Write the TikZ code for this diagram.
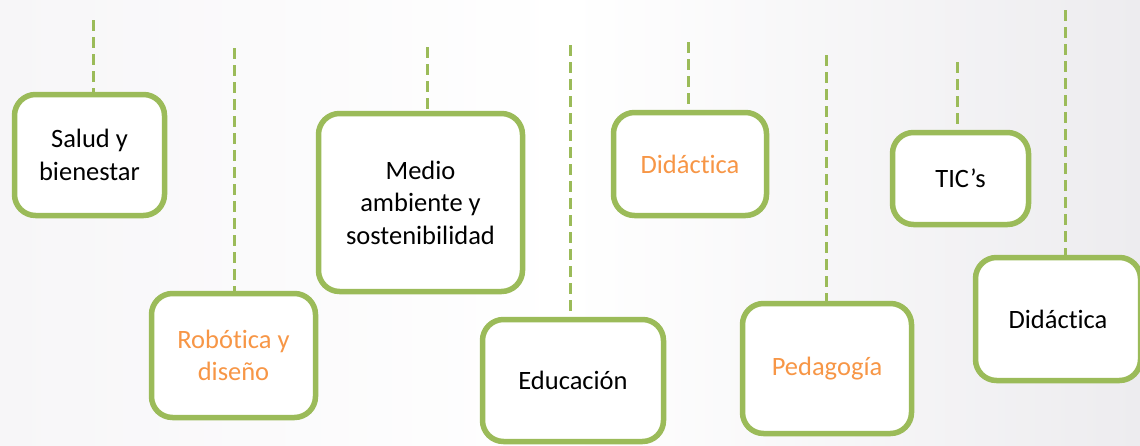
\documentclass[tikz,border=0pt]{standalone}
\usepackage{fontspec}
\setmainfont{Carlito}[RawFeature={-liga;-clig;-dlig}]
\definecolor{boxgreen}{HTML}{9BBB59}
\definecolor{txtorange}{HTML}{F79646}
\definecolor{bgleft}{HTML}{F7F6F8}
\definecolor{bgright}{HTML}{EDECEF}
\begin{document}
\begin{tikzpicture}[x=1pt,y=-1pt,
  card/.style={draw=boxgreen, line width=5.5pt, fill=white, rounded corners=21pt,
    inner sep=0pt, align=center, font=\fontsize{26.5}{32.5}\selectfont},
  orangetxt/.style={text=txtorange},
  hanger/.style={draw=boxgreen, line width=3pt, dash pattern=on 11pt off 6pt}]
\useasboundingbox (0,0) rectangle (1140,445);
\shade[left color=bgleft, right color=bgright, middle color=white] (0,0) rectangle (1140,445);
\node[card, minimum width=150pt, minimum height=121pt] (salud) at (89.5,155) {Salud y\\bienestar};
\node[card, orangetxt, minimum width=164pt, minimum height=124pt] (robot) at (233.5,355.5) {Robótica y\\diseño};
\node[card, minimum width=204pt, minimum height=178pt] (medio) at (420.5,202.5) {Medio\\ambiente y\\sostenibilidad};
\node[card, minimum width=181pt, minimum height=122pt] (edu) at (573,380.5) {Educación};
\node[card, orangetxt, minimum width=153pt, minimum height=103pt] (dida) at (690,164) {Didáctica};
\node[card, orangetxt, minimum width=169pt, minimum height=130pt] (peda) at (827,368.5) {Pedagogía};
\node[card, minimum width=136pt, minimum height=92pt] (tic) at (960.5,178.5) {TIC’s};
\node[card, minimum width=165pt, minimum height=123pt] (didb) at (1058,319) {Didáctica};
\coordinate (t1) at (93,20);
\coordinate (t2) at (234,48);
\coordinate (t3) at (427,47);
\coordinate (t4) at (570,45);
\coordinate (t5) at (688,42);
\coordinate (t6) at (826,55);
\coordinate (t7) at (957,62);
\coordinate (t8) at (1065,10);
\draw[hanger] (t1) -- (t1 |- salud.north);
\draw[hanger] (t2) -- (t2 |- robot.north);
\draw[hanger] (t3) -- (t3 |- medio.north);
\draw[hanger] (t4) -- (t4 |- edu.north);
\draw[hanger] (t5) -- (t5 |- dida.north);
\draw[hanger] (t6) -- (t6 |- peda.north);
\draw[hanger] (t7) -- (t7 |- tic.north);
\draw[hanger] (t8) -- (t8 |- didb.north);
\end{tikzpicture}
\end{document}
